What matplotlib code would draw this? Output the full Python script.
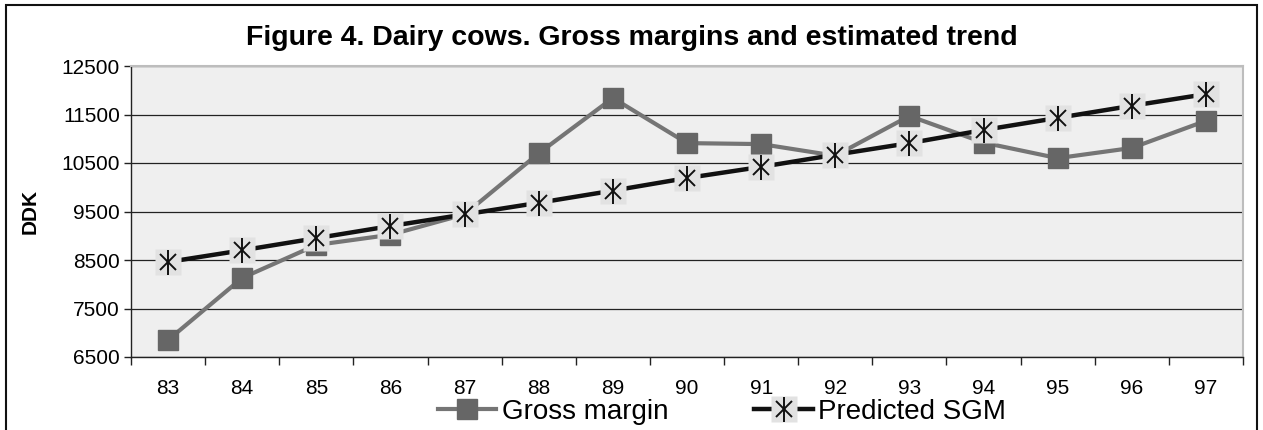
import matplotlib.pyplot as plt
from matplotlib.patches import Rectangle
from matplotlib.legend_handler import HandlerTuple

years = ['83', '84', '85', '86', '87', '88', '89', '90', '91', '92',
         '93', '94', '95', '96', '97']
gross_margin = [6850, 8130, 8810, 9020, 9440, 10700, 11840, 10910, 10890, 10650,
                11470, 10920, 10600, 10810, 11370]
predicted_sgm = [8460, 8700, 8950, 9200, 9440, 9680, 9930, 10190, 10420, 10670,
                 10910, 11180, 11430, 11680, 11920]
yticks = [6500, 7500, 8500, 9500, 10500, 11500, 12500]

plt.rcParams['font.family'] = ['Liberation Sans', 'DejaVu Sans']

fig = plt.figure(figsize=(12.63, 4.30), dpi=100)
ax = fig.add_axes([131/1263, 1 - 357/430, 1112/1263, 291/430])
ax.set_facecolor('#efefef')

x = list(range(len(years)))

# gross margin: grey line with dark square markers
gm, = ax.plot(x, gross_margin, color='#757575', lw=3, marker='s', ms=14,
              mfc='#666666', mec='#666666', zorder=3)

# predicted SGM: black line, asterisk on a light square
ax.plot(x, predicted_sgm, color='#111111', lw=3.2, zorder=4)
p_bg, = ax.plot(x, predicted_sgm, ls='none', marker='s', ms=19,
                mfc='#e2e2e2', mec='none', zorder=5)
p_x, = ax.plot(x, predicted_sgm, ls='none', marker='x', ms=12, mew=1.4,
               color='#111111', zorder=6)
p_v, = ax.plot(x, predicted_sgm, ls='none', marker='|', ms=18, mew=1.4,
               color='#111111', zorder=6)
p_line, = ax.plot([], [], color='#111111', lw=3.2)

ax.set_xlim(-0.5, len(years) - 0.5)
ax.set_ylim(6500, 12500)
ax.set_yticks(yticks)
ax.set_xticks(x)
ax.set_xticklabels(years)
ax.set_xticks([i - 0.5 for i in range(len(years) + 1)], minor=True)
ax.tick_params(axis='x', which='major', length=0, pad=16, labelsize=15)
ax.tick_params(axis='x', which='minor', length=6, width=1, color='#222222')
ax.tick_params(axis='y', length=5, width=1, labelsize=15, color='#222222', pad=3)
ax.yaxis.grid(True, color='#222222', lw=0.9)
ax.set_axisbelow(True)

for side in ['top', 'right']:
    ax.spines[side].set_color('#bdbdbd')
    ax.spines[side].set_linewidth(1.5)
for side in ['left', 'bottom']:
    ax.spines[side].set_color('#222222')
    ax.spines[side].set_linewidth(1)

ax.set_ylabel('DDK', fontsize=15, fontweight='bold', labelpad=16)

fig.text(0.5, 1 - 38/430, 'Figure 4. Dairy cows. Gross margins and estimated trend',
         ha='center', va='center', fontsize=20.5, fontweight='bold')

fig.legend([gm, (p_line, p_bg, p_x, p_v)], ['Gross margin', 'Predicted SGM'],
           handler_map={tuple: HandlerTuple(ndivide=1, pad=0)},
           loc='center', bbox_to_anchor=(722/1263, 1 - 412/430), ncol=2,
           frameon=False, fontsize=20, handlelength=2.1, handletextpad=0.2,
           columnspacing=3.1, borderaxespad=0, borderpad=0)

# outer chart frame
fig.patches.append(Rectangle((6/1263, -0.05), 1251/1263, 1.05 - 5/430,
                             transform=fig.transFigure, fill=False,
                             edgecolor='#111111', lw=1.5))

fig.savefig('out.png', dpi=100)
